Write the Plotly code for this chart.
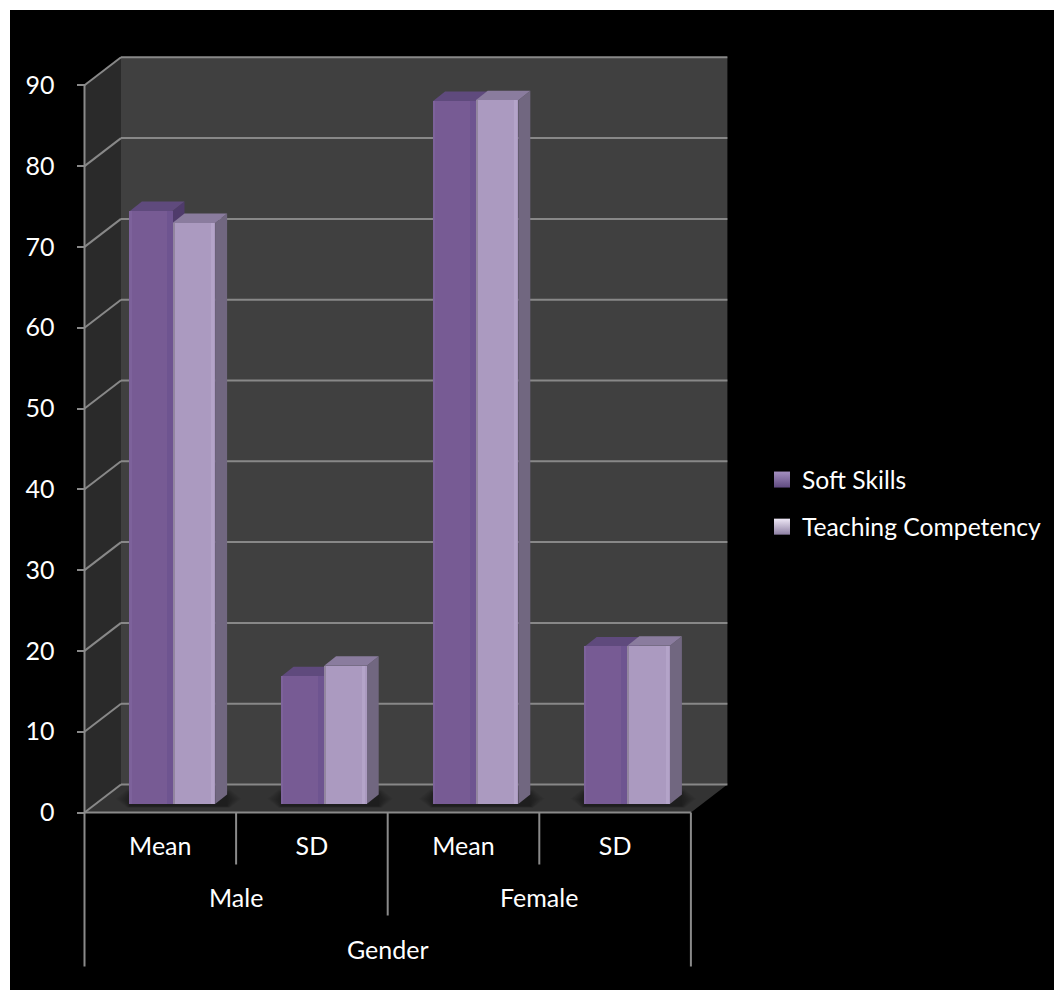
import plotly.graph_objects as go

# Survey results by gender
GROUPS = ["Male", "Female"]
STATS = ["Mean", "SD", "Mean", "SD"]
ROOT_LABEL = "Gender"
SOFT_SKILLS = [73.4, 15.8, 87.0, 19.5]
TEACHING = [71.9, 17.1, 87.1, 19.6]
Y_TICKS = [0, 10, 20, 30, 40, 50, 60, 70, 80, 90]

WIDTH, HEIGHT = 1054, 990
FONT = "Lato"
FONT_SIZE = 25
LEGEND_FONT_SIZE = 24.7

# Scale of the chart: pixels per category and per value unit, and where the origin falls
PX_CAT, PX_VAL = 151.6, 8.08
ORIGIN_X, ORIGIN_Y = 84.5, 812.5
LEFT, TOP = 10, 10


def dx(px):
    return px / PX_CAT


def dy(px):
    return px / PX_VAL


X_RANGE = [(LEFT - ORIGIN_X) / PX_CAT, (WIDTH - ORIGIN_X) / PX_CAT]
Y_RANGE = [(ORIGIN_Y - HEIGHT) / PX_VAL, (ORIGIN_Y - TOP) / PX_VAL]

# Depth of the room and of the bars inside it
WALL_DX, WALL_DY = dx(36.5), dy(28)
BAR_SHIFT_X, BAR_BASE = dx(12.2), dy(8.5)
BAR_W = dx(42.6)
SIDE_DX, SIDE_DY = dx(12), dy(9.5)
N = len(STATS)

GRID = "#888888"
AXIS = "#8a8a8a"

SERIES = [
    dict(name="Soft Skills", values=SOFT_SKILLS, front="#775b94", side="#4f3b6b", top="#5f4a7d",
         offset=-BAR_W, strips=[(0.86, 0.14, "#6e5490"), (0.0, 0.04, "#7d629b")],
         legend_a="#a48fc0", legend_b="#5f4a80"),
    dict(name="Teaching Competency", values=TEACHING, front="#ab9ac0", side="#716780", top="#8a7c9e",
         offset=0.0, strips=[(0.0, 0.05, "#92859f"), (0.90, 0.07, "#b4a4c9")],
         legend_a="#eee8f6", legend_b="#8d7fa3"),
]


def polygon(points, color, layer="below"):
    path = "M" + "L".join(f"{x},{y}" for x, y in points) + "Z"
    return dict(type="path", path=path, xref="x", yref="y", fillcolor=color,
                line=dict(width=0), layer=layer)


def segment(x0, y0, x1, y1, color=GRID, width=2):
    return dict(type="line", x0=x0, y0=y0, x1=x1, y1=y1, xref="x", yref="y",
                line=dict(color=color, width=width), layer="below")


shapes = []

# Room: side wall, back wall and floor
top_val = Y_TICKS[-1]
shapes.append(polygon([(0, 0), (WALL_DX, WALL_DY), (WALL_DX, top_val + WALL_DY), (0, top_val)], "#2a2a2a"))
shapes.append(polygon([(WALL_DX, WALL_DY), (N + WALL_DX, WALL_DY), (N + WALL_DX, top_val + WALL_DY),
                       (WALL_DX, top_val + WALL_DY)], "#404040"))
shapes.append(polygon([(0, 0), (N, 0), (N + WALL_DX, WALL_DY), (WALL_DX, WALL_DY)], "#333333"))

# Wall gridlines
for t in Y_TICKS:
    shapes.append(segment(0, t, WALL_DX, t + WALL_DY))
    shapes.append(segment(WALL_DX, t + WALL_DY, N + WALL_DX, t + WALL_DY))

# Soft shadow on the floor around each bar pair, built from stacked translucent layers
for i in range(N):
    c = i + 0.5 + BAR_SHIFT_X
    for grow in (14, 12, 10, 8, 6, 4, 2, 0):
        x0, x1 = c - BAR_W - dx(grow), c + BAR_W + SIDE_DX + dx(grow)
        y0, y1 = BAR_BASE - dy(2 + grow * 0.12), BAR_BASE + SIDE_DY + dy(grow * 0.35)
        inset = dx(grow * 0.8)
        shapes.append(polygon([(x0 + inset, y0), (x1 - inset, y0), (x1, (y0 + y1) / 2), (x1 - inset, y1),
                               (x0 + inset, y1), (x0, (y0 + y1) / 2)], "rgba(0,0,0,0.055)"))

# Y axis line, x axis line and the category dividers of the three label rows
shapes.append(segment(0, 0, 0, top_val, AXIS))
shapes.append(segment(0, 0, N, 0, AXIS))
ROW_STATS = -dy(52)
ROW_GROUPS = -dy(103)
ROW_ROOT = -dy(154)
for i in range(N + 1):
    if i in (0, N):
        bottom = ROW_ROOT
    elif i == N // 2:
        bottom = ROW_GROUPS
    else:
        bottom = ROW_STATS
    shapes.append(segment(i, 0, i, bottom, AXIS))

fig = go.Figure()
centers = [i + 0.5 + BAR_SHIFT_X for i in range(N)]

# Side and top faces of every bar, further bar first
for s in SERIES:
    for c, v in zip(centers, s["values"]):
        left = c + s["offset"]
        right = left + BAR_W
        front_top = v + BAR_BASE
        fig.add_trace(go.Scatter(
            x=[right, right + SIDE_DX, right + SIDE_DX, right, right],
            y=[BAR_BASE, BAR_BASE + SIDE_DY, front_top + SIDE_DY, front_top, BAR_BASE],
            mode="lines", fill="toself", fillcolor=s["side"], line=dict(width=0),
            hoverinfo="skip", showlegend=False, legendgroup=s["name"]))
        fig.add_trace(go.Scatter(
            x=[left, right, right + SIDE_DX, left + SIDE_DX, left],
            y=[front_top, front_top, front_top + SIDE_DY, front_top + SIDE_DY, front_top],
            mode="lines", fill="toself", fillcolor=s["top"], line=dict(width=0),
            hoverinfo="skip", showlegend=False, legendgroup=s["name"]))

# Front faces with their bevel strips, on an overlaid axis pair so they sit above the depth faces
for s in SERIES:
    fig.add_trace(go.Bar(
        x=centers, y=s["values"], base=BAR_BASE, width=BAR_W, offset=s["offset"],
        marker=dict(color=s["front"], line=dict(width=0)), name=s["name"],
        customdata=STATS, hovertemplate="%{customdata}: %{y}<extra>" + s["name"] + "</extra>",
        xaxis="x2", yaxis="y2", showlegend=False, legendgroup=s["name"]))
    for start, frac, color in s["strips"]:
        fig.add_trace(go.Bar(
            x=centers, y=s["values"], base=BAR_BASE, width=BAR_W * frac,
            offset=s["offset"] + BAR_W * start, marker=dict(color=color, line=dict(width=0)),
            hoverinfo="skip", xaxis="x2", yaxis="y2", showlegend=False, legendgroup=s["name"]))

# Legend entries
for s in SERIES:
    fig.add_trace(go.Scatter(
        x=[None], y=[None], mode="markers", name=s["name"], legendgroup=s["name"],
        marker=dict(symbol="square", size=16, color=s["legend_a"], line=dict(width=0),
                    gradient=dict(type="vertical", color=s["legend_b"]))))

# Group and root labels beneath the stat labels
annotations = []
for i, g in enumerate(GROUPS):
    annotations.append(dict(x=N / len(GROUPS) * (i + 0.5), y=-dy(84.5), xref="x", yref="y", text=g,
                            showarrow=False, font=dict(family=FONT, size=FONT_SIZE, color="white")))
annotations.append(dict(x=N / 2, y=-dy(136), xref="x", yref="y", text=ROOT_LABEL,
                        showarrow=False, font=dict(family=FONT, size=FONT_SIZE, color="white")))

fig.update_layout(
    width=WIDTH, height=HEIGHT,
    margin=dict(l=0, r=0, t=0, b=0),
    paper_bgcolor="white", plot_bgcolor="black",
    barmode="overlay", bargap=0,
    font=dict(family=FONT, size=FONT_SIZE, color="white"),
    shapes=shapes, annotations=annotations,
    legend=dict(x=762 / WIDTH, y=1 - 457 / HEIGHT, xanchor="left", yanchor="top",
                bgcolor="rgba(0,0,0,0)", tracegroupgap=12,
                font=dict(family=FONT, size=LEGEND_FONT_SIZE, color="white")),
    xaxis=dict(domain=[LEFT / WIDTH, 1], range=X_RANGE, anchor="free",
               position=(HEIGHT - ORIGIN_Y) / HEIGHT,
               tickmode="array", tickvals=[i + 0.5 for i in range(N)], ticktext=STATS,
               ticks="", showgrid=False, zeroline=False, showline=False, ticklabelstandoff=16,
               tickfont=dict(family=FONT, size=FONT_SIZE, color="white")),
    yaxis=dict(domain=[0, 1 - TOP / HEIGHT], range=Y_RANGE, anchor="free",
               position=ORIGIN_X / WIDTH,
               tickmode="array", tickvals=Y_TICKS, ticks="outside", ticklen=8, tickwidth=2,
               tickcolor=AXIS, showgrid=False, zeroline=False, showline=False, ticklabelstandoff=17,
               tickfont=dict(family=FONT, size=FONT_SIZE, color="white")),
    xaxis2=dict(domain=[LEFT / WIDTH, 1], range=X_RANGE, overlaying="x", matches="x", visible=False),
    yaxis2=dict(domain=[0, 1 - TOP / HEIGHT], range=Y_RANGE, overlaying="y", matches="y", visible=False),
)

fig.write_html("out.html")
